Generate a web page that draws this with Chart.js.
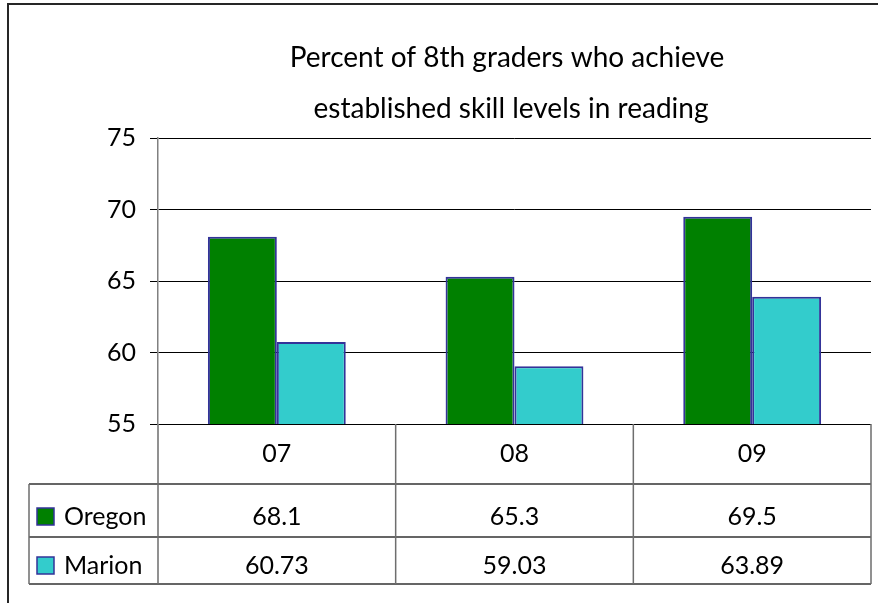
<!DOCTYPE html>
<html>
<head>
<meta charset="utf-8">
<script src="https://cdn.jsdelivr.net/npm/chart.js@4"></script>
<style>
  html, body { margin: 0; padding: 0; background: #fff; }
  #wrap { width: 878px; height: 603px; }
</style>
</head>
<body>
<div id="wrap"><canvas id="readingChart" width="878" height="603"></canvas></div>
<script>
// Chart data
const years = ['07', '08', '09'];
const oregon = [68.1, 65.3, 69.5];
const marion = [60.73, 59.03, 63.89];
const yTicks = [55, 60, 65, 70, 75];
const titleLines = ['Percent of 8th graders who achieve', 'established skill levels in reading'];

const FONT = 'Lato, "DejaVu Sans", sans-serif';
const OREGON_COLOR = '#008000';
const MARION_COLOR = '#33cccc';
const EDGE_COLOR = '#333399';

// Draws the frame, the title and the data table under the bars
const tablePlugin = {
    id: 'dataTable',
    afterDraw(chart) {
        const ctx = chart.ctx;
        const xs = chart.scales.x;
        const area = chart.chartArea;
        const half = (xs.getPixelForValue(1) - xs.getPixelForValue(0)) / 2;

        const rowTop = area.bottom;
        const row1 = rowTop + 60;
        const row2 = row1 + 53;
        const row3 = row2 + 47;
        const tableLeft = 29;

        ctx.save();

        // outer frame (top and left only)
        ctx.strokeStyle = '#262626';
        ctx.lineWidth = 2;
        ctx.beginPath();
        ctx.moveTo(8, 603);
        ctx.lineTo(8, 4);
        ctx.lineTo(878, 4);
        ctx.stroke();

        // title
        ctx.fillStyle = '#000';
        ctx.textAlign = 'center';
        ctx.textBaseline = 'alphabetic';
        ctx.font = '28px ' + FONT;
        ctx.fillText(titleLines[0], 507, 67);
        ctx.fillText(titleLines[1], 511, 118);

        // table lines
        ctx.lineWidth = 1.5;
        ctx.strokeStyle = '#333';
        ctx.beginPath();
        [row1, row2, row3].forEach(yy => {
            ctx.moveTo(tableLeft, yy);
            ctx.lineTo(area.right, yy);
        });
        ctx.stroke();

        ctx.strokeStyle = '#6e6e6e';
        ctx.beginPath();
        ctx.moveTo(tableLeft, row1);
        ctx.lineTo(tableLeft, row3);
        years.forEach((yr, i) => {
            const left = xs.getPixelForValue(i) - half;
            ctx.moveTo(left, rowTop);
            ctx.lineTo(left, row3);
        });
        ctx.moveTo(area.right, rowTop);
        ctx.lineTo(area.right, row3);
        ctx.stroke();

        // table text
        ctx.font = '25px ' + FONT;
        ctx.fillStyle = '#000';
        ctx.textAlign = 'center';
        years.forEach((yr, i) => {
            const cx = xs.getPixelForValue(i);
            ctx.fillText(yr, cx, rowTop + 38);
            ctx.fillText(String(oregon[i]), cx, row1 + 41);
            ctx.fillText(String(marion[i]), cx, row2 + 37);
        });

        // legend keys in the table
        const keys = [
            { label: 'Oregon', color: OREGON_COLOR, base: row1 + 41 },
            { label: 'Marion', color: MARION_COLOR, base: row2 + 37 }
        ];
        ctx.textAlign = 'left';
        keys.forEach(k => {
            ctx.fillStyle = k.color;
            ctx.fillRect(37, k.base - 17, 17, 17);
            ctx.strokeStyle = EDGE_COLOR;
            ctx.lineWidth = 1.5;
            ctx.strokeRect(37, k.base - 17, 17, 17);
            ctx.fillStyle = '#000';
            ctx.fillText(k.label, 64, k.base);
        });

        ctx.restore();
    }
};

new Chart(document.getElementById('readingChart'), {
    type: 'bar',
    data: {
        labels: years,
        datasets: [
            {
                label: 'Oregon',
                data: oregon,
                backgroundColor: OREGON_COLOR,
                borderColor: EDGE_COLOR,
                borderWidth: 2
            },
            {
                label: 'Marion',
                data: marion,
                backgroundColor: MARION_COLOR,
                borderColor: EDGE_COLOR,
                borderWidth: 2
            }
        ]
    },
    options: {
        responsive: false,
        animation: false,
        devicePixelRatio: 1,
        datasets: {
            bar: { barPercentage: 1, categoryPercentage: 0.58 }
        },
        layout: {
            padding: { top: 138, right: 7, bottom: 179, left: 0 }
        },
        plugins: {
            legend: { display: false },
            title: { display: false },
            tooltip: { enabled: false }
        },
        scales: {
            x: { display: false },
            y: {
                min: yTicks[0],
                max: yTicks[yTicks.length - 1],
                afterFit(scale) { scale.width = 158; },
                afterBuildTicks(scale) { scale.ticks = yTicks.map(v => ({ value: v })); },
                ticks: {
                    color: '#000',
                    padding: 14,
                    font: { family: FONT, size: 25 }
                },
                grid: {
                    color: '#000',
                    lineWidth: 1,
                    tickLength: 8
                },
                border: { color: '#808080', width: 1.5 }
            }
        }
    },
    plugins: [tablePlugin]
});
</script>
</body>
</html>
